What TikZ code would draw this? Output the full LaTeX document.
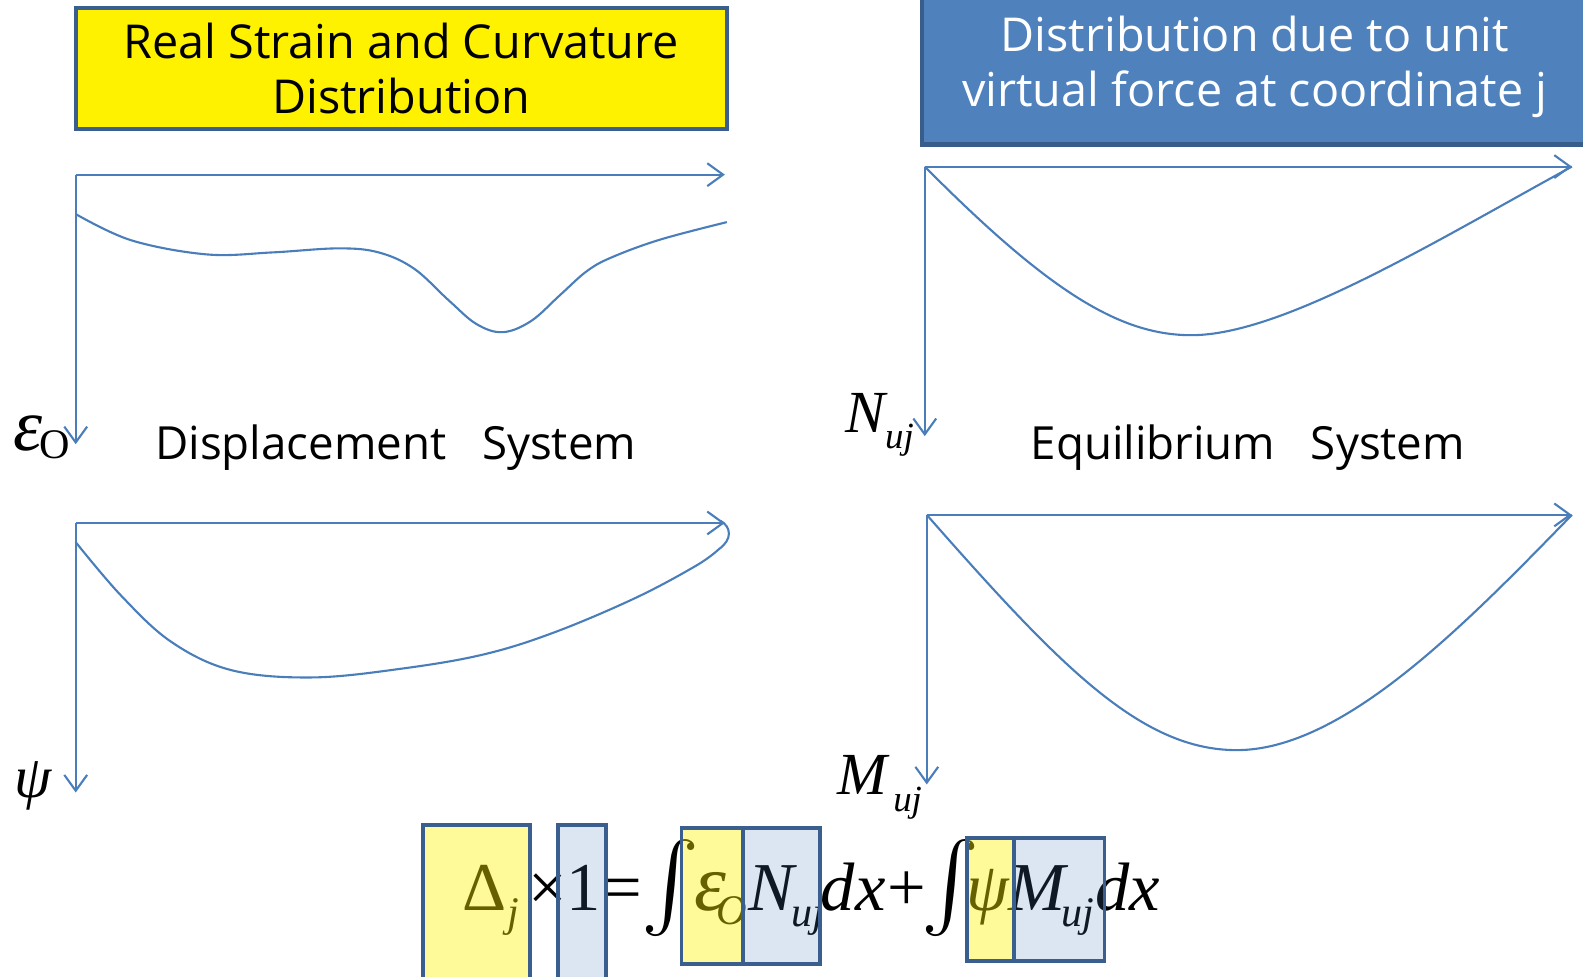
\documentclass[tikz,border=0pt]{standalone}
\usepackage{amsmath}
\usepackage{fontspec}
\setmainfont{Open Sans}
\newfontfamily\tms{Liberation Serif}
\usetikzlibrary{arrows.meta}
\definecolor{axisblue}{HTML}{4A7EBB}
\definecolor{boxline}{HTML}{3A5F8E}
\definecolor{titleblue}{HTML}{4F81BD}
\definecolor{titleline}{HTML}{385D8A}
\tikzset{
  titlebox/.style={rectangle, draw=#1, line width=1.2pt, align=center,
                   font=\fontsize{13.3}{15.8}\selectfont, inner sep=0pt},
  titletext/.style={align=center, font=\fontsize{13.3}{15.8}\selectfont, inner sep=0pt},
  ax/.style={-{Straight Barb[length=4.5pt,width=6.5pt]}, line width=0.6pt, draw=axisblue},
  crv/.style={line width=0.6pt, draw=axisblue},
  sys/.style={font=\fontsize{13}{15.8}\selectfont, anchor=base, inner sep=0pt},
  lab/.style={font=\tms\itshape\fontsize{17}{17}\selectfont, anchor=base, inner sep=0pt},
  labsub/.style={font=\tms\itshape\fontsize{10.5}{10.5}\selectfont, anchor=base, inner sep=0pt},
  eq/.style={font=\tms\fontsize{19.5}{19.5}\selectfont, anchor=base, inner sep=0pt},
  eqi/.style={font=\tms\itshape\fontsize{19.5}{19.5}\selectfont, anchor=base, inner sep=0pt},
  eqsub/.style={font=\tms\itshape\fontsize{12}{12}\selectfont, anchor=base, inner sep=0pt},
  intg/.style={font=\fontsize{25}{25}\selectfont, inner sep=0pt},
  ybox/.style={draw=boxline, fill=yellow, fill opacity=0.4, line width=1.1pt},
  bbox/.style={draw=boxline, fill=titleblue, fill opacity=0.2, line width=1.1pt},
}

\begin{document}
\begin{tikzpicture}[x=0.0101cm, y=-0.0101cm]
  \useasboundingbox (0,0) rectangle (1568,967);

  % titles
  \node[titlebox=boxline, fill=yellow, minimum width=6.51cm, minimum height=1.21cm] (real) at (397.5,68)
    {Real Strain and Curvature\\Distribution};
  \node[titlebox=titleline, fill=titleblue, minimum width=6.89cm, minimum height=1.60cm] (unitbox) at (1254,64) {};
  \node[titletext, text=white] (unit) at (1243,66) {Distribution due to unit\\virtual force at coordinate j};

  % axes
  \coordinate (o1) at (75,173);  \coordinate (x1) at (718,173);  \coordinate (y1) at (75,440);
  \coordinate (o2) at (75,518);  \coordinate (x2) at (718,518);  \coordinate (y2) at (75,785);
  \coordinate (o3) at (916,165); \coordinate (x3) at (1557,165); \coordinate (y3) at (916,432);
  \coordinate (o4) at (918,510); \coordinate (x4) at (1557,510); \coordinate (y4) at (918,777);
  \foreach \i in {1,...,4} {
    \draw[ax] (o\i) -- (x\i);
    \draw[ax] (o\i) -- (y\i);
  }

  % distributions
  \draw[crv] plot[smooth, tension=0.6] coordinates {(75,212) (130,238) (205,252) (270,250) (335,246) (375,250)
    (410,266) (445,298) (472,321) (498,329) (526,318) (555,292) (582,268) (608,254) (655,237) (720,220)};
  \draw[crv] plot[smooth, tension=0.6] coordinates {(75,537) (120,590) (170,636) (230,664) (310,671) (400,662)
    (480,648) (550,626) (630,592) (690,560) (712,544)} .. controls (726,534) and (724,522) .. (714,516);
  \draw[crv] (o3) .. controls (1040,290) and (1110,332) .. (1180,332) .. controls (1270,332) and (1420,240) .. (x3);
  \draw[crv] (o4) .. controls (1050,660) and (1130,743) .. (1225,743) .. controls (1330,743) and (1450,620) .. (x4);

  % axis labels
  \node[lab, font=\tms\itshape\fontsize{21}{21}\selectfont] (eps) at (28,446) {ε};
  \node[labsub, font=\tms\fontsize{12}{12}\selectfont] (epssub) at (54,454) {O};
  \node[lab] (nlab) at (857,428) {N};
  \node[labsub] (nsub) at (891,444) {uj};
  \node[lab] (psi) at (33,790) {ψ};
  \node[lab] (mlab) at (854,787) {M};
  \node[labsub] (msub) at (899,804) {uj};

  \node[sys] (disp) at (392,455) {Displacement~~~System};
  \node[sys] (equi) at (1236,455) {Equilibrium~~~System};

  % virtual work equation
  \node[eq] (delta) at (480,902) {Δ};
  \node[eqsub] (dsub) at (508,918) {j};
  \node[eq] (times) at (543,902) {×};
  \node[eq] (one) at (578,902) {1};
  \node[eq] (equal) at (617,902) {=};
  \node[intg] (int1) at (664,880) {$\int$};
  \node[eqi, font=\tms\itshape\fontsize{23}{23}\selectfont] (eo) at (704,902) {ε};
  \node[eqsub] (eosub) at (725,916) {O};
  \node[eqi] (nuj) at (764,902) {N};
  \node[eqsub] (nujsub) at (800,918) {uj};
  \node[eqi] (dx1) at (845,902) {dx};
  \node[eq] (plus) at (898,902) {+};
  \node[intg] (int2) at (942,880) {$\int$};
  \node[eqi] (psi2) at (978,902) {ψ};
  \node[eqi] (muj) at (1027,902) {M};
  \node[eqsub] (mujsub) at (1068,918) {uj};
  \node[eqi] (dx2) at (1117,902) {dx};

  % highlight boxes
  \draw[ybox] (419,817) rectangle (525,990);
  \draw[bbox] (553,817) rectangle (600,990);
  \draw[ybox] (675,820) rectangle (736,955);
  \draw[bbox] (736,820) rectangle (812,955);
  \draw[ybox] (958,830) rectangle (1004,952);
  \draw[bbox] (1004,830) rectangle (1094,952);
\end{tikzpicture}
\end{document}
